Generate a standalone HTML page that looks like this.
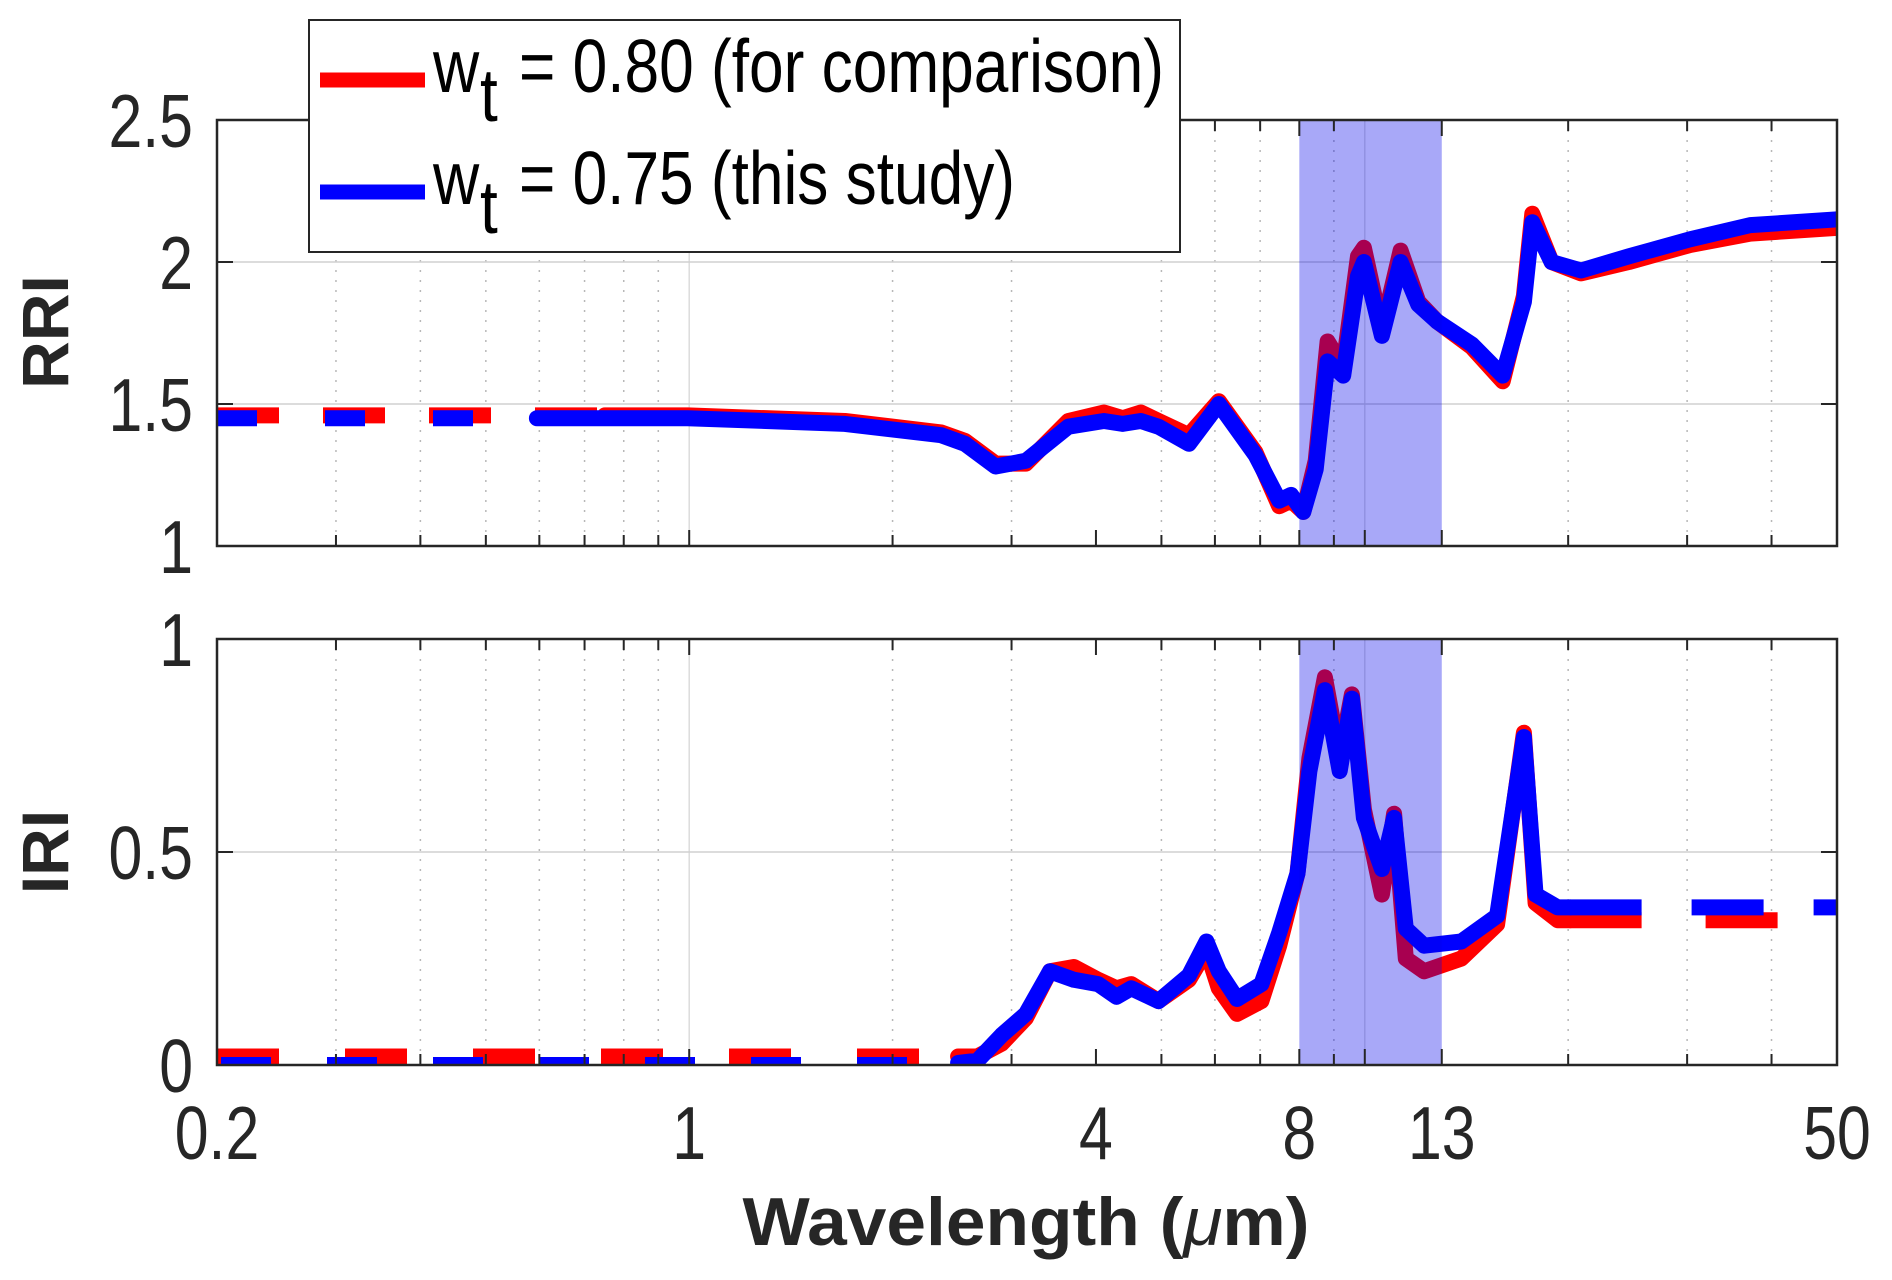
<!DOCTYPE html>
<html><head><meta charset="utf-8"><style>
html,body{margin:0;padding:0;background:#fff;}
svg{display:block;font-family:"Liberation Sans",Arial,sans-serif;}
</style></head><body>
<svg id="chart" width="1892" height="1280" viewBox="0 0 1892 1280" xmlns="http://www.w3.org/2000/svg"></svg>
<script>
// ---- data ----
const rriWl      = [0.2,0.595,0.995,1.70,2.36,2.56,2.84,3.15,3.64,4.11,4.38,4.66,4.95,5.49,6.08,6.89,7.47,7.78,8.11,8.46,8.81,9.29,9.77,9.97,10.6,11.3,12.0,12.8,14.4,16.0,17.2,17.7,18.9,20.9,24.6,30.3,37.2,50];
const rriBlue    = [1.45,1.45,1.45,1.43,1.39,1.36,1.28,1.30,1.42,1.44,1.43,1.44,1.42,1.36,1.50,1.32,1.16,1.18,1.12,1.27,1.65,1.60,1.95,2.00,1.74,2.00,1.85,1.79,1.71,1.60,1.86,2.14,2.00,1.97,2.02,2.08,2.13,2.15];
const rriRed     = [1.46,1.46,1.46,1.44,1.40,1.37,1.29,1.29,1.44,1.47,1.45,1.47,1.44,1.39,1.51,1.33,1.14,1.16,1.12,1.30,1.72,1.63,2.02,2.05,1.76,2.04,1.86,1.79,1.70,1.58,1.88,2.17,2.00,1.96,2.00,2.06,2.10,2.12];
const rriBlueDashEnd = 0.595;
const rriRedDashEnd  = 0.75;

const iriWl      = [0.2,2.36,2.67,2.90,3.15,3.42,3.71,4.03,4.29,4.51,4.95,5.49,5.83,6.08,6.47,7.03,7.47,7.95,8.28,8.73,9.18,9.57,9.97,10.6,11.05,11.5,12.24,13.9,15.7,17.2,17.9,19.3,20.1,50];
const iriBlue    = [0,0,0.01,0.07,0.12,0.22,0.20,0.19,0.16,0.18,0.15,0.21,0.29,0.22,0.155,0.19,0.31,0.45,0.69,0.88,0.69,0.86,0.58,0.46,0.58,0.32,0.28,0.29,0.35,0.77,0.40,0.37,0.37,0.37];
const iriRed     = [0.02,0.02,0.02,0.05,0.11,0.22,0.23,0.20,0.18,0.19,0.15,0.20,0.27,0.18,0.12,0.15,0.28,0.45,0.72,0.91,0.72,0.87,0.60,0.40,0.59,0.25,0.22,0.25,0.33,0.78,0.38,0.34,0.34,0.34];
const iriSolidStart = 2.5;
const iriSolidEnd   = 20.1;

const rriTicks = [1,1.5,2,2.5];
const rriTickLabels = ["1","1.5","2","2.5"];
const iriTicks = [0,0.5,1];
const iriTickLabels = ["0","0.5","1"];
const xTicks = [0.2,1,4,8,13,50];
const xTickLabels = ["0.2","1","4","8","13","50"];
const xMinor = [0.3,0.4,0.5,0.6,0.7,0.8,0.9,2,3,5,6,7,9,20,30,40];
const xMajorGrid = [1,10];
const band = [8,13];

// ---- layout ----
const NS="http://www.w3.org/2000/svg";
const svg=document.getElementById('chart');
const L=217,R=1837;
const X=w=>L+(Math.log10(w)-Math.log10(0.2))/(Math.log10(50)-Math.log10(0.2))*(R-L);
const panels=[
 {name:'rri',top:120,bot:546,min:1,max:2.5,ticks:rriTicks,labels:rriTickLabels,title:'RRI',tcy:332},
 {name:'iri',top:639,bot:1065,min:0,max:1,ticks:iriTicks,labels:iriTickLabels,title:'IRI',tcy:852}
];
function mk(tag,attrs,parent){const e=document.createElementNS(NS,tag);for(const k in attrs)e.setAttribute(k,attrs[k]);(parent||svg).appendChild(e);return e;}
function pathFrom(wl,vals,Y,lo,hi){
  const pts=[];
  const interp=(w)=>{for(let i=0;i<wl.length-1;i++){if(w>=wl[i]&&w<=wl[i+1]){const t=(Math.log(w)-Math.log(wl[i]))/(Math.log(wl[i+1])-Math.log(wl[i]));return vals[i]+t*(vals[i+1]-vals[i]);}}return vals[vals.length-1];};
  pts.push([X(lo),Y(interp(lo))]);
  for(let i=0;i<wl.length;i++){if(wl[i]>lo&&wl[i]<hi)pts.push([X(wl[i]),Y(vals[i])]);}
  pts.push([X(hi),Y(interp(hi))]);
  return 'M'+pts.map(p=>p[0].toFixed(1)+','+p[1].toFixed(1)).join(' L');
}

panels.forEach(p=>{
  const Y=v=>p.bot-(v-p.min)/(p.max-p.min)*(p.bot-p.top);
  const g=mk('g',{});
  
  
  const clipId='clip-'+p.name;
  const cp=mk('clipPath',{id:clipId},g);mk('rect',{x:L,y:p.top,width:R-L,height:p.bot-p.top},cp);
  xMinor.forEach(w=>{const l=mk('line',{x1:X(w),x2:X(w),y1:p.top,y2:p.bot,stroke:'#b8b8b8','stroke-width':1.5,'stroke-dasharray':'2 8'},g);
    });
  xMajorGrid.forEach(w=>{const l=mk('line',{x1:X(w),x2:X(w),y1:p.top,y2:p.bot,stroke:'#dcdcdc','stroke-width':1.5},g);
    });
  p.ticks.forEach(t=>{if(t!==p.min&&t!==p.max){const l=mk('line',{x1:L,x2:R,y1:Y(t),y2:Y(t),stroke:'#d0d0d0','stroke-width':1.5},g);
    }});
  const sg=mk('g',{'clip-path':'url(#'+clipId+')'},g);
  let defs;
  if(p.name==='rri'){
    defs=[
     {wl:rriWl,v:rriRed,c:'#ff0000',lo:0.2,hi:rriRedDashEnd,dash:'62 44',off:0,n:'red-dashed'},
     {wl:rriWl,v:rriRed,c:'#ff0000',lo:rriRedDashEnd,hi:50,n:'red-line'},
     {wl:rriWl,v:rriBlue,c:'#0000ff',lo:0.2,hi:rriBlueDashEnd,dash:'40 68',off:0,n:'blue-dashed'},
     {wl:rriWl,v:rriBlue,c:'#0000ff',lo:rriBlueDashEnd,hi:50,n:'blue-line'}];
  } else {
    defs=[
     {wl:iriWl,v:iriRed,c:'#ff0000',lo:0.2,hi:iriSolidStart,dash:'62 66',off:0,n:'red-dashed-short'},
     {wl:iriWl,v:iriRed,c:'#ff0000',lo:iriSolidStart,hi:iriSolidEnd,n:'red-line'},
     {wl:iriWl,v:iriRed,c:'#ff0000',lo:iriSolidEnd,hi:50,dash:'72 64',off:0,n:'red-dashed-long'},
     {wl:iriWl,v:iriBlue,c:'#0000ff',lo:0.2,hi:iriSolidStart,dash:'50 56',off:-4,n:'blue-dashed-short'},
     {wl:iriWl,v:iriBlue,c:'#0000ff',lo:iriSolidStart,hi:iriSolidEnd,n:'blue-line'},
     {wl:iriWl,v:iriBlue,c:'#0000ff',lo:iriSolidEnd,hi:50,dash:'72 50',off:0,n:'blue-dashed-long'}];
  }
  defs.forEach(d=>{
    const a={d:pathFrom(d.wl,d.v,Y,d.lo,d.hi),fill:'none',stroke:d.c,'stroke-width':16,'stroke-linejoin':'round','stroke-linecap':d.dash?'butt':'round'};
    if(d.dash){a['stroke-dasharray']=d.dash;a['stroke-dashoffset']=d.off;}
    const e=mk('path',a,sg);
    
    
  });
  const b=mk('rect',{x:X(band[0]),y:p.top,width:X(band[1])-X(band[0]),height:p.bot-p.top,fill:'rgba(0,0,235,0.34)'},g);
  
  
  const bx=mk('rect',{x:L,y:p.top,width:R-L,height:p.bot-p.top,fill:'none',stroke:'#262626','stroke-width':2.5},g);
  
  
  xTicks.concat(xMinor).forEach(w=>{
    mk('line',{x1:X(w),x2:X(w),y1:p.bot,y2:p.bot-(xTicks.includes(w)?16:11),stroke:'#262626','stroke-width':2},g);
    mk('line',{x1:X(w),x2:X(w),y1:p.top,y2:p.top+(xTicks.includes(w)?16:11),stroke:'#262626','stroke-width':2},g);
  });
  mk('line',{x1:X(10),x2:X(10),y1:p.bot,y2:p.bot-16,stroke:'#262626','stroke-width':2},g);
  p.ticks.forEach((t,i)=>{
    mk('line',{x1:L,x2:L+16,y1:Y(t),y2:Y(t),stroke:'#262626','stroke-width':2},g);
    mk('line',{x1:R,x2:R-16,y1:Y(t),y2:Y(t),stroke:'#262626','stroke-width':2},g);
    const tx=mk('text',{x:0,y:0,'text-anchor':'end','font-size':64,fill:'#262626',transform:'translate(193,'+(Y(t)+27)+') scale(0.95,1.18)'},g);
    tx.textContent=p.labels[i];
    
    
  });
  const tt=mk('text',{x:0,y:0,'text-anchor':'middle','font-size':66,'font-weight':'bold',fill:'#262626',transform:'translate(68,'+p.tcy+') rotate(-90)'},g);
  tt.textContent=p.title;
  
  
});

xTicks.forEach((w,i)=>{
  const t=mk('text',{x:0,y:0,'text-anchor':'middle','font-size':64,fill:'#262626',transform:'translate('+X(w)+',1159) scale(0.95,1.18)'});
  t.textContent=xTickLabels[i];
  
  
});
const xt=mk('text',{x:1026,y:1245,'text-anchor':'middle','font-size':68,'font-weight':'bold',fill:'#262626',textLength:567,lengthAdjust:'spacingAndGlyphs'});
xt.innerHTML='Wavelength (<tspan font-style="italic" font-weight="normal">μ</tspan>m)';



const lg=mk('g',{});


mk('rect',{x:309,y:20,width:871,height:232,fill:'#fff',stroke:'#262626','stroke-width':2},lg);
[[80,'#ff0000','= 0.80 (for comparison)',645,'legend-entry-red'],[192,'#0000ff','= 0.75 (this study)',496,'legend-entry-blue']].forEach(e=>{
  const eg=mk('g',{},lg);
  
  
  mk('line',{x1:320,x2:425,y1:e[0],y2:e[0],stroke:e[1],'stroke-width':15},eg);
  const w=mk('text',{x:433,y:e[0]+12,'font-size':64,fill:'#000',transform:'translate(0,'+(-(e[0]+12)*0.18)+') scale(1,1.18)'},eg);w.textContent='w';
  const s=mk('text',{x:480,y:e[0]+41,'font-size':64,fill:'#000',transform:'translate(0,'+(-(e[0]+41)*0.18)+') scale(1,1.18)'},eg);s.textContent='t';
  const tx=mk('text',{x:519,y:e[0]+12,'font-size':64,fill:'#000',textLength:e[3],lengthAdjust:'spacingAndGlyphs',transform:'translate(0,'+(-(e[0]+12)*0.18)+') scale(1,1.18)'},eg);tx.textContent=e[2];
});
</script>
</body></html>
